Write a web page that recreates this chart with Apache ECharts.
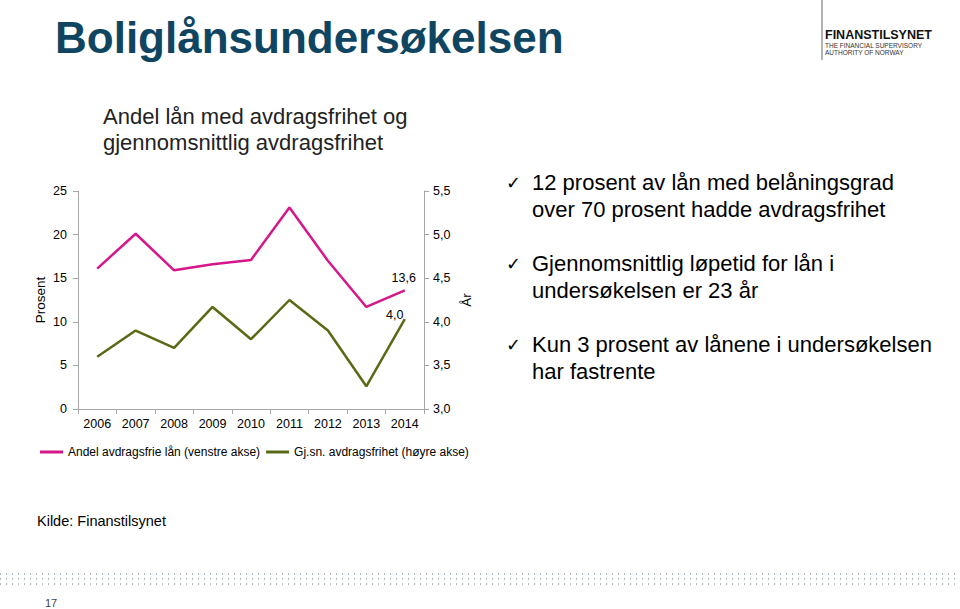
<!DOCTYPE html>
<html>
<head>
<meta charset="utf-8">
<script src="https://cdn.jsdelivr.net/npm/echarts@6/dist/echarts.min.js"></script>
<style>
html,body{margin:0;padding:0;background:#fff;}
#c{width:960px;height:609px;}
</style>
</head>
<body>
<div id="c"></div>
<script>
const categories = ['2006','2007','2008','2009','2010','2011','2012','2013','2014'];
const andelAvdragsfrie = [16.1, 20.1, 15.9, 16.6, 17.1, 23.1, 17.0, 11.7, 13.6];
const gjsnAvdragsfrihet = [3.6, 3.9, 3.7, 4.17, 3.8, 4.25, 3.9, 3.26, 4.03];
const leftTicks = {min: 0, max: 25, interval: 5};
const rightTicks = {min: 3.0, max: 5.5, interval: 0.5};
const seriesNames = ['Andel avdragsfrie lån (venstre akse)', 'Gj.sn. avdragsfrihet (høyre akse)'];
const bullets = [
  ['12 prosent av lån med belåningsgrad', 'over 70 prosent hadde avdragsfrihet'],
  ['Gjennomsnittlig løpetid for lån i', 'undersøkelsen er 23 år'],
  ['Kun 3 prosent av lånene i undersøkelsen', 'har fastrente']
];

const FONT = '"Liberation Sans", Arial, sans-serif';
const PINK = '#D6168B';
const GREEN = '#5A6A14';
const AXIS = '#A6A6A6';

const chart = echarts.init(document.getElementById('c'), null, {renderer: 'svg'});

const graphics = [];
graphics.push({type: 'text', left: 55, top: 15, style: {text: 'Boliglånsundersøkelsen', font: 'bold 44px ' + FONT, fill: '#0F4561'}});
graphics.push({type: 'text', left: 103, top: 105, style: {text: 'Andel lån med avdragsfrihet og', font: '22px ' + FONT, fill: '#222'}});
graphics.push({type: 'text', left: 103, top: 131, style: {text: 'gjennomsnittlig avdragsfrihet', font: '22px ' + FONT, fill: '#222'}});
const bulletTops = [171, 252, 333];
bullets.forEach((b, i) => {
  graphics.push({type: 'text', left: 506, top: bulletTops[i] + 2, style: {text: '✓', font: '18px "DejaVu Sans", sans-serif', fill: '#000'}});
  b.forEach((line, j) => {
    graphics.push({type: 'text', left: 532, top: bulletTops[i] + j * 27, style: {text: line, font: '22px ' + FONT, fill: '#000'}});
  });
});
graphics.push({type: 'text', left: 37, top: 513, style: {text: 'Kilde: Finanstilsynet', font: '14.5px ' + FONT, fill: '#000'}});
graphics.push({type: 'text', left: 45, top: 597, style: {text: '17', font: '11px ' + FONT, fill: '#444'}});
[574, 579, 584].forEach(y => {
  graphics.push({type: 'line', shape: {x1: 0, y1: y, x2: 960, y2: y}, style: {stroke: '#AEBBC6', lineWidth: 2, lineDash: [1, 5]}});
});
graphics.push({type: 'line', shape: {x1: 822, y1: 0, x2: 822, y2: 60}, style: {stroke: '#999', lineWidth: 1.5}});
graphics.push({type: 'text', left: 825, top: 28, style: {text: 'FINANSTILSYNET', font: 'bold 12.5px ' + FONT, fill: '#111'}});
graphics.push({type: 'text', left: 825, top: 41.5, style: {text: 'THE FINANCIAL SUPERVISORY', font: '6.5px ' + FONT, fill: '#333'}});
graphics.push({type: 'text', left: 825, top: 48.5, style: {text: 'AUTHORITY OF NORWAY', font: '6.5px ' + FONT, fill: '#333'}});

const fmt1 = v => v.toFixed(1).replace('.', ',');

chart.setOption({
  animation: false,
  textStyle: {fontFamily: FONT},
  grid: {left: 78, right: 536, top: 191, bottom: 200, containLabel: false},
  legend: {
    left: 40, top: 446, padding: 0,
    itemWidth: 23, itemHeight: 3, itemGap: 6,
    icon: 'rect',
    textStyle: {fontSize: 12, color: '#000', fontFamily: FONT},
    data: seriesNames
  },
  xAxis: {
    type: 'category', data: categories, boundaryGap: true,
    axisLine: {lineStyle: {color: AXIS}},
    axisTick: {show: true, length: 5, alignWithLabel: false, lineStyle: {color: AXIS}},
    axisLabel: {color: '#000', fontSize: 12.5, margin: 8, fontFamily: FONT}
  },
  yAxis: [
    {
      type: 'value', position: 'left', min: leftTicks.min, max: leftTicks.max, interval: leftTicks.interval,
      name: 'Prosent', nameLocation: 'middle', nameGap: 31, nameRotate: 90,
      nameTextStyle: {color: '#000', fontSize: 13.5, fontFamily: FONT},
      axisLine: {show: true, lineStyle: {color: AXIS}},
      axisTick: {show: true, length: 5, lineStyle: {color: AXIS}},
      axisLabel: {color: '#000', fontSize: 12.5, margin: 11, fontFamily: FONT},
      splitLine: {show: false}
    },
    {
      type: 'value', position: 'right', min: rightTicks.min, max: rightTicks.max, interval: rightTicks.interval,
      name: 'År', nameLocation: 'middle', nameGap: 35, nameRotate: 90,
      nameTextStyle: {color: '#000', fontSize: 13.5, fontFamily: FONT},
      axisLine: {show: true, lineStyle: {color: AXIS}},
      axisTick: {show: true, length: 5, lineStyle: {color: AXIS}},
      axisLabel: {color: '#000', fontSize: 12.5, margin: 9, fontFamily: FONT, formatter: v => fmt1(v)},
      splitLine: {show: false}
    }
  ],
  series: [
    {
      name: seriesNames[0], type: 'line', yAxisIndex: 0, data: andelAvdragsfrie,
      symbol: 'circle', symbolSize: 0, showSymbol: true,
      lineStyle: {color: PINK, width: 2.5}, itemStyle: {color: PINK},
      label: {
        show: true, color: '#000', fontSize: 12.5, fontFamily: FONT, position: 'top', distance: 6, offset: [-1, 0],
        formatter: p => p.dataIndex === categories.length - 1 ? fmt1(p.value) : ''
      }
    },
    {
      name: seriesNames[1], type: 'line', yAxisIndex: 1, data: gjsnAvdragsfrihet,
      symbol: 'circle', symbolSize: 0, showSymbol: true,
      lineStyle: {color: GREEN, width: 2.5}, itemStyle: {color: GREEN},
      label: {
        show: true, color: '#000', fontSize: 12.5, fontFamily: FONT, position: 'top', distance: 2, offset: [-10, 4],
        formatter: p => p.dataIndex === categories.length - 1 ? fmt1(p.value) : ''
      }
    }
  ],
  graphic: graphics
});
</script>
</body>
</html>
